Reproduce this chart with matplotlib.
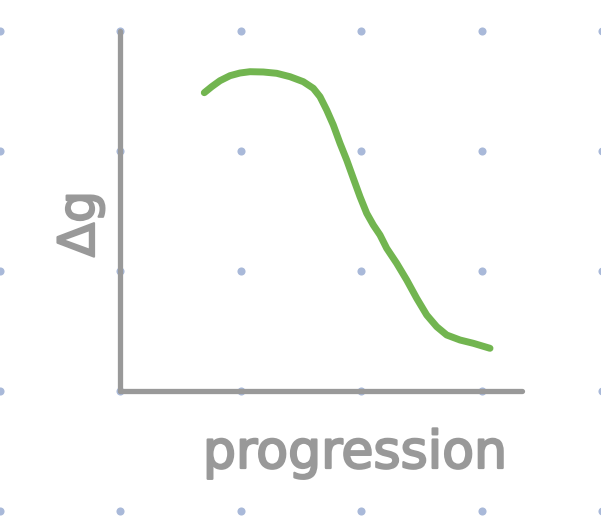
import matplotlib
matplotlib.use("Agg")
import matplotlib.pyplot as plt
import matplotlib.patheffects as pe
import numpy as np

# curve values read in pixel space, converted to grid units below
curve_px_x = [204.3, 211.7, 220.0, 230.0, 240.0, 250.0, 263.3, 276.7, 290.0, 303.3,
              313.3, 320.0, 326.7, 333.3, 340.0, 346.7, 353.3, 360.0, 366.7, 373.3,
              380.0, 386.7, 396.7, 406.7, 416.7, 426.7, 436.7, 446.7, 460.0, 473.3, 490.0]
curve_px_y = [92.7, 86.7, 80.7, 75.7, 73.0, 71.7, 72.0, 73.3, 76.7, 81.7,
              88.3, 96.7, 110.0, 125.0, 143.3, 160.0, 178.3, 196.7, 213.3, 225.0,
              235.0, 248.3, 263.3, 280.0, 298.3, 315.0, 326.7, 335.0, 340.0, 343.3, 348.3]

x_label = "progression"
y_label = "Δg"

grid_x = [-1, 0, 1, 2, 3, 4]
grid_y = [-1, 0, 1, 2, 3]

W, H = 601, 516
sx, sy = 120.5, 120.0
x0, y0 = 120, 391
progress = [(p - x0) / sx for p in curve_px_x]
delta_g = [(y0 - p) / sy for p in curve_px_y]

fig = plt.figure(figsize=(W / 100, H / 100), dpi=100)
ax = fig.add_axes([0, 0, 1, 1])
ax.set_xlim((0 - x0) / sx, (W - x0) / sx)
ax.set_ylim((y0 - H) / sy, (y0 - 0) / sy)
ax.axis("off")

gx, gy = np.meshgrid(grid_x, grid_y)
ax.scatter(gx.ravel(), gy.ravel(), s=34, color="#a9b9d9", linewidths=0, zorder=1)

axis_col = "#999999"
ax.plot([0, 0], [3.0, 0], color=axis_col, lw=3.8, solid_capstyle="round", zorder=2)
ax.plot([0, 3.34], [0, 0], color=axis_col, lw=3.8, solid_capstyle="round", zorder=2)

ax.plot(progress, delta_g, color="#72b550", lw=5.0, solid_capstyle="round",
        solid_joinstyle="round", zorder=3)

thick = [pe.withStroke(linewidth=1.6, foreground=axis_col)]
ax.text((355 - x0) / sx, (y0 - 468) / sy, x_label, ha="center", va="baseline",
        fontsize=37.5, color=axis_col, family="DejaVu Sans", path_effects=thick)
ax.text((80 - x0) / sx, (y0 - 224) / sy, y_label, ha="center", va="center",
        rotation=90, fontsize=36, color=axis_col, family="DejaVu Sans", path_effects=thick)

fig.savefig("out.png", dpi=100)
